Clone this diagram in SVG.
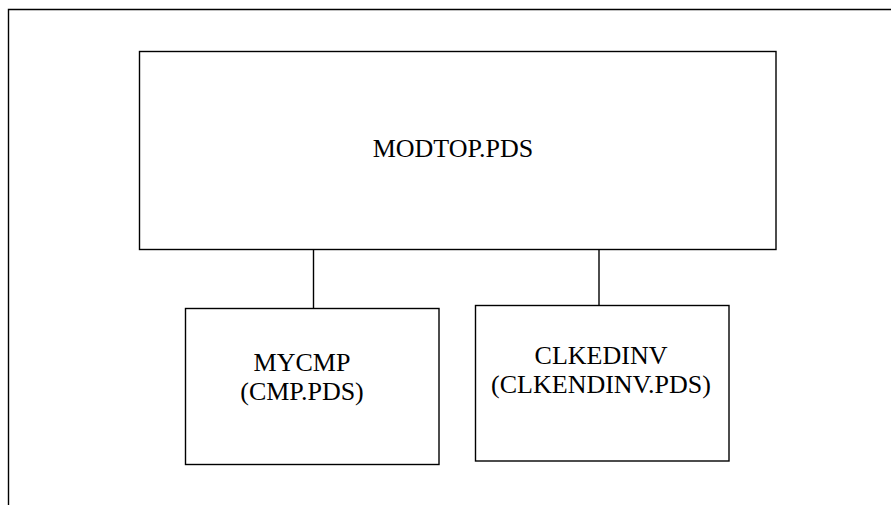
<svg xmlns="http://www.w3.org/2000/svg" width="891" height="505" viewBox="0 0 891 505">
  <style>
    .box { fill: #fff; stroke: #000; stroke-width: 1.4; }
    .edge { fill: none; stroke: #000; stroke-width: 1.4; }
    .lbl { font-family: "Liberation Serif", "Times New Roman", serif; font-size: 26px; fill: #000; text-anchor: middle; }
  </style>
  <rect width="891" height="505" fill="#fff"/>
  <!-- page frame -->
  <path class="edge" d="M8.5 505 V9.5 H891"/>
  <g id="connectors">
    <path class="edge" d="M313.5 249.5 V308.5"/>
    <path class="edge" d="M599 249.5 V305.5"/>
  </g>
  <g id="modtop">
    <rect class="box" x="139.5" y="51.5" width="636.5" height="198"/>
    <text class="lbl" x="453" y="157">MODTOP.PDS</text>
  </g>
  <g id="mycmp">
    <rect class="box" x="185.5" y="308.5" width="253.5" height="156"/>
    <text class="lbl" x="302" y="371">MYCMP</text>
    <text class="lbl" x="302" y="400">(CMP.PDS)</text>
  </g>
  <g id="clkedinv">
    <rect class="box" x="475.5" y="305.5" width="253.5" height="155.5"/>
    <text class="lbl" x="601" y="364">CLKEDINV</text>
    <text class="lbl" x="601" y="393">(CLKENDINV.PDS)</text>
  </g>
</svg>
